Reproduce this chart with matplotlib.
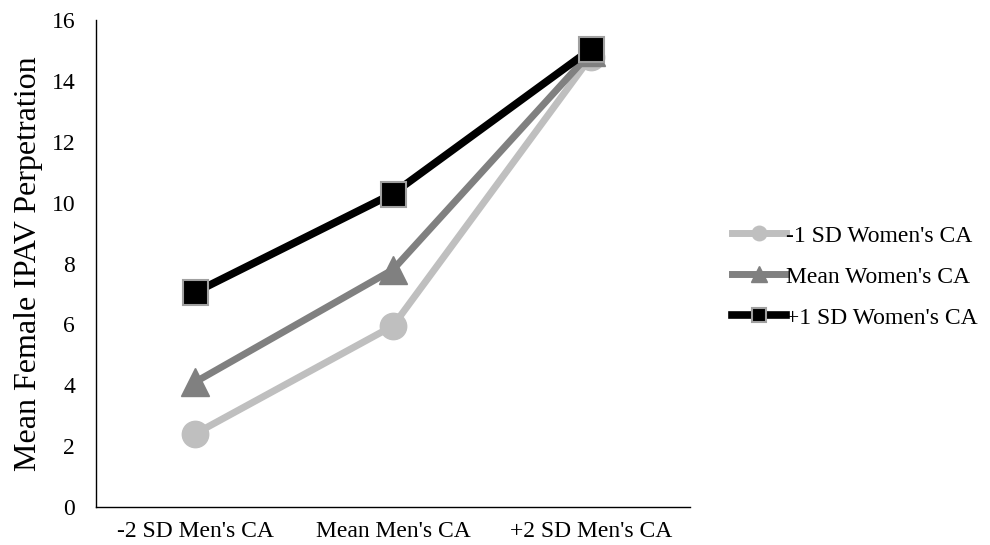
import matplotlib

matplotlib.use("Agg")
import matplotlib.pyplot as plt

categories = ["-2 SD Men's CA", "Mean Men's CA", "+2 SD Men's CA"]
low_women = [2.4, 5.95, 14.8]
mean_women = [4.1, 7.8, 14.95]
high_women = [7.05, 10.3, 15.05]
y_ticks = [0, 2, 4, 6, 8, 10, 12, 14, 16]

plt.rcParams["font.family"] = ["Liberation Serif", "DejaVu Serif"]

fig = plt.figure(figsize=(9.9, 5.45), dpi=100)
ax = fig.add_axes([0.097, 0.07, 0.6, 0.893])

x = list(range(len(categories)))
ax.plot(x, low_women, color="#bfbfbf", lw=5.0, marker="o", ms=19,
        mfc="#bfbfbf", mec="#bfbfbf", label="-1 SD Women's CA", zorder=3)
ax.plot(x, mean_women, color="#808080", lw=5.0, marker="^", ms=20,
        mfc="#808080", mec="#808080", label="Mean Women's CA", zorder=4)
ax.plot(x, high_women, color="#000000", lw=5.5, marker="s", ms=18,
        mfc="#000000", mec="#a0a0a0", mew=1.5, label="+1 SD Women's CA", zorder=5)

ax.set_xlim(-0.5, 2.5)
ax.set_ylim(0, 16)
ax.set_xticks(x)
ax.set_xticklabels(categories, fontsize=17)
ax.set_yticks(y_ticks)
ax.set_yticklabels([str(v) for v in y_ticks], fontsize=17)
ax.tick_params(axis="x", length=0, pad=10)
ax.tick_params(axis="y", length=0, pad=15)
ax.set_ylabel("Mean Female IPAV Perpetration", fontsize=23, labelpad=6)
for side in ("top", "right"):
    ax.spines[side].set_visible(False)
for side in ("left", "bottom"):
    ax.spines[side].set_linewidth(1.0)
    ax.spines[side].set_color("#000000")

fig.legend(loc="center left", bbox_to_anchor=(0.727, 0.492), frameon=False,
           borderpad=0, fontsize=17, handlelength=2.3, handletextpad=0.0,
           labelspacing=0.82, markerscale=0.55)

fig.savefig("out.png", dpi=100)
